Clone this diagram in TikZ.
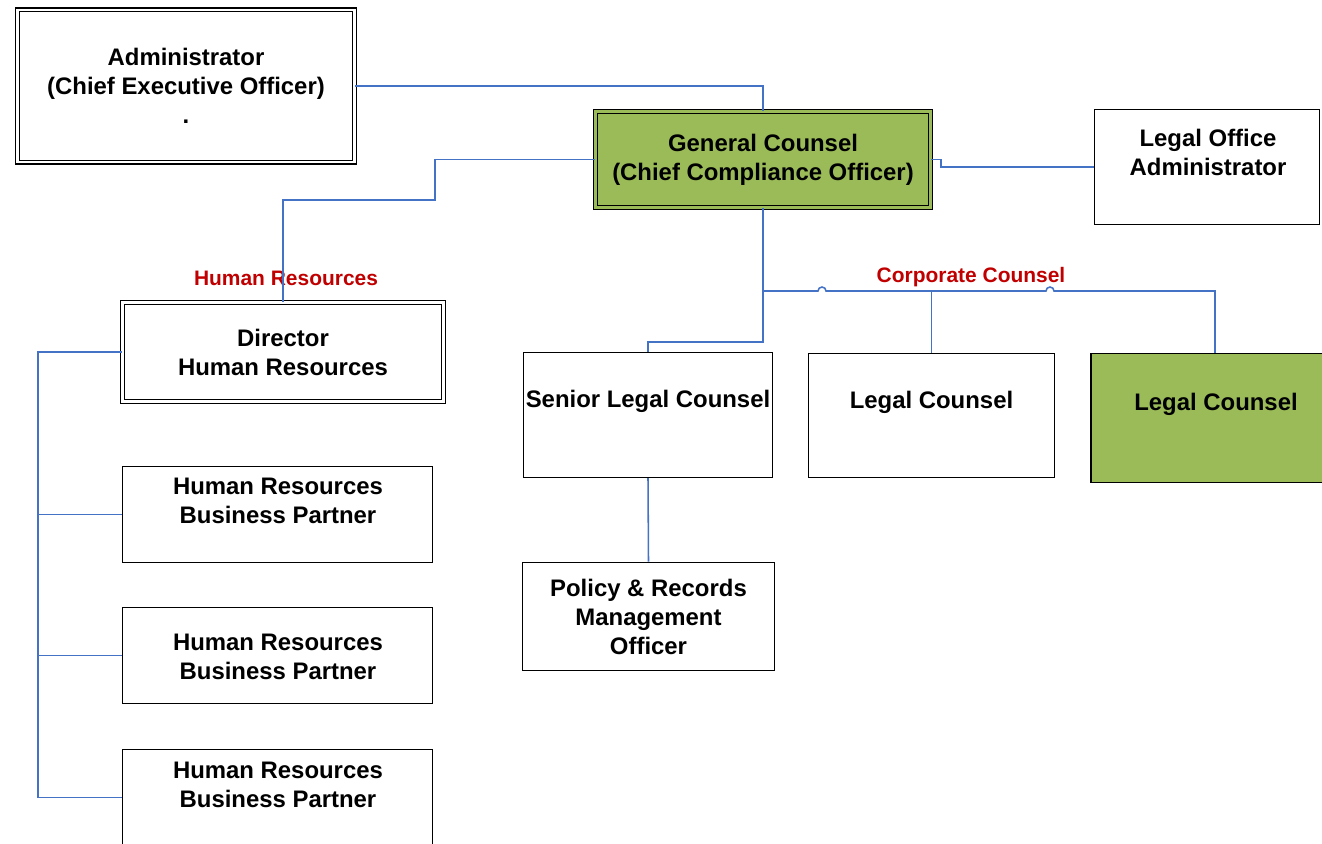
\documentclass[tikz,border=0pt]{standalone}
\usepackage{fontspec}
\setmainfont{Liberation Sans}
\usepackage{xcolor}
\usepackage{tikz}
\definecolor{ocInk}{HTML}{000000}
\definecolor{ocLink}{HTML}{4472C4}
\definecolor{ocRed}{HTML}{C00000}
\definecolor{ocGreen}{HTML}{9BBB59}
\tikzset{
  oc diagram/.style={font=\bfseries\fontsize{17}{20.6}\selectfont, text=ocInk,
    line join=miter},
  oc box/.style={draw=ocInk, fill=white, line width=1.1pt, align=center,
    inner sep=0pt},
  oc double box/.style={oc box, line width=1pt, double=white,
    double distance=1.8pt},
  oc key box/.style={oc double box, fill=ocGreen, double=ocGreen},
  oc text/.style={align=center, inner sep=0pt},
  oc link/.style={draw=ocLink, line width=1.1pt},
  oc label/.style={font=\bfseries\fontsize{14.9}{18}\selectfont, text=ocRed}
}

\begin{document}
\begin{tikzpicture}[oc diagram, x=0.025cm, y=-0.025cm]
\useasboundingbox (0,0) rectangle (1322,843);
\clip (0,0) rectangle (1322,843);
% top row
\node[oc double box, minimum width=8.41cm, minimum height=3.81cm] (ceo) at (186,86)
  {Administrator\\(Chief Executive Officer)\\.};
\node[oc key box, minimum width=8.37cm, minimum height=2.39cm] (gc) at (763,159.5)
  {General Counsel\\(Chief Compliance Officer)};
\node[oc box, minimum width=5.62cm, minimum height=2.88cm] (loa) at (1207,167) {};
\node[oc text] (loa text) at (1208,152) {Legal Office\\Administrator};
% human resources column
\node[oc double box, minimum width=8.02cm, minimum height=2.47cm] (hrd) at (283,352)
  {Director\\Human Resources};
\foreach \i/\y/\ty in {1/514.5/500.5, 2/655.5/656.5, 3/797.5/784.5}{
  \node[oc box, minimum width=7.75cm, minimum height=2.4cm] (hrbp\i) at (277.5,\y) {};
  \node[oc text] (hrbp\i text) at (278,\ty) {Human Resources\\Business Partner};
}
% legal row
\node[oc box, minimum width=6.22cm, minimum height=3.12cm] (slc) at (648,415) {};
\node[oc text] (slc text) at (648,401) {Senior Legal Counsel};
\node[oc box, minimum width=6.15cm, minimum height=3.1cm] (lc) at (931.5,415.5) {};
\node[oc text] (lc text) at (931.5,402) {Legal Counsel};
\node[oc box, fill=ocGreen, minimum width=6.2cm, minimum height=3.22cm] (lcg) at (1215,418) {};
\node[oc text] (lcg text) at (1216,404) {Legal Counsel};
\node[oc box, minimum width=6.3cm, minimum height=2.7cm] (prm) at (648.5,616.5)
  {Policy \& Records\\Management\\Officer};
% group labels
\node[oc label] (hr label) at (286,278) {Human Resources};
\node[oc label] (cc label) at (971,277.5) {Corporate Counsel};
% reporting lines
\coordinate (hr bend) at (435,200);
\coordinate (cc bus) at (763,291);
\coordinate (slc bend) at (763,342);
\draw[oc link] (ceo.east) -| (gc.north);
\draw[oc link] (gc.west) -| (hr bend) -| (hrd.north);
\draw[oc link] (gc.east) -- ++(10,0) |- (loa.west);
\draw[oc link] (gc.south) -- (cc bus) -- (slc bend) -| (slc.north);
\draw[oc link] (cc bus) -- (818,291) arc[start angle=180, end angle=0, radius=0.1cm]
  -- (1046,291) arc[start angle=180, end angle=0, radius=0.1cm] -| (lcg.north);
\draw[oc link] (lc.north) -- (lc.north |- cc bus);
\draw[oc link] (slc.south) -- (prm.north);
\draw[oc link] (hrd.west) -- ++(-84,0) coordinate (hr spine) |- (hrbp3.west);
\foreach \i in {1,2}
  \draw[oc link] (hrbp\i.west) -- (hrbp\i.west -| hr spine);
\end{tikzpicture}
\end{document}
